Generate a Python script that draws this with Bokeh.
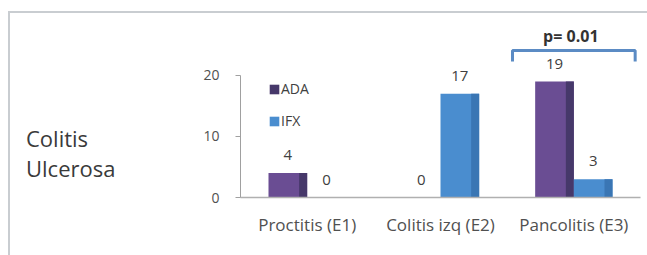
from bokeh.plotting import figure
from bokeh.layouts import row
from bokeh.models import (FactorRange, Range1d, FixedTicker, Legend, LegendItem,
                          ColumnDataSource, Div)
from bokeh.transform import dodge
from bokeh.core.properties import value
from bokeh.embed import file_html
from bokeh.resources import INLINE

# ---- data ----
categories = ["Proctitis (E1)", "Colitis izq (E2)", "Pancolitis (E3)"]
ada = [4, 0, 19]
ifx = [0, 17, 3]
series = ["ADA", "IFX"]
y_ticks = [0, 10, 20]
group_title = ["Colitis", "Ulcerosa"]
pvalue_text = "p= 0.01"
pvalue_category = "Pancolitis (E3)"

# ---- style ----
FONT = "Open Sans"
ADA_C, ADA_DARK = "#6a4d93", "#46386a"
IFX_C, IFX_DARK = "#4a8dcf", "#3a76b4"
TXT = "#404040"
BORDER = "#c9cdd1"

p = figure(width=447, height=242,
           x_range=FactorRange(factors=categories, range_padding=0),
           y_range=Range1d(0, 29.34),
           output_backend="svg", toolbar_location=None,
           min_border_left=40, min_border_right=7,
           min_border_top=5, min_border_bottom=58)
p.outline_line_color = None
p.xgrid.visible = False
p.ygrid.visible = False

src = ColumnDataSource(dict(cat=categories, ada=ada, ifx=ifx,
                            ada_lbl=[str(v) for v in ada],
                            ifx_lbl=[str(v) for v in ifx]))

bw, off, sw = 0.29, 0.145, 0.06
p.vbar(x=dodge("cat", -off, range=p.x_range), top="ada", width=bw, source=src,
       fill_color=ADA_C, line_color=None)
r_ada_strip = p.vbar(x=dodge("cat", -off + bw / 2 - sw / 2, range=p.x_range), top="ada",
                     width=sw, source=src, fill_color=ADA_DARK, line_color=None)
r_ifx = p.vbar(x=dodge("cat", off, range=p.x_range), top="ifx", width=bw, source=src,
               fill_color=IFX_C, line_color=None)
p.vbar(x=dodge("cat", off + bw / 2 - sw / 2, range=p.x_range), top="ifx", width=sw,
       source=src, fill_color=IFX_DARK, line_color=None)

lbl_kw = dict(source=src, text_align="center", text_baseline="bottom", y_offset=-13,
              text_font=value(FONT), text_font_size="15px", text_color=TXT)
p.text(x=dodge("cat", -off, range=p.x_range), y="ada", text="ada_lbl", **lbl_kw)
p.text(x=dodge("cat", off, range=p.x_range), y="ifx", text="ifx_lbl", **lbl_kw)

legend = Legend(items=[LegendItem(label=series[0], renderers=[r_ada_strip]),
                       LegendItem(label=series[1], renderers=[r_ifx])],
                location=(28, 67), glyph_width=12, glyph_height=12, padding=0,
                spacing=13, label_standoff=1, margin=0,
                label_text_font=FONT, label_text_font_size="14px",
                label_text_color=TXT, background_fill_alpha=0,
                border_line_color=None)
p.add_layout(legend)

# significance bracket
idx = categories.index(pvalue_category)
cx, half = idx + 0.5, 0.46
ytop = max(ada[idx], ifx[idx]) + 5.1
ylow = ytop - 1.8
p.line(x=[cx - half, cx - half, cx + half, cx + half], y=[ylow, ytop, ytop, ylow],
       line_color="#5b8bc4", line_width=3)
p.text(x=[cx], y=[ytop + 2.3], text=[pvalue_text], text_align="center",
       text_baseline="middle", x_offset=-3, text_font=value(FONT),
       text_font_size="16px", text_font_style="bold", text_color="#333333")

# axes
ya = p.yaxis[0]
ya.ticker = FixedTicker(ticks=y_ticks)
ya.bounds = (y_ticks[0], y_ticks[-1])
ya.minor_tick_line_color = None
ya.major_tick_in = 0
ya.major_tick_out = 5
ya.major_label_standoff = 16
ya.axis_line_color = "#a0a0a0"
ya.major_tick_line_color = "#a0a0a0"
ya.major_label_text_font = FONT
ya.major_label_text_font_size = "14px"
ya.major_label_text_color = "#505050"

xa = p.xaxis[0]
xa.major_tick_line_color = None
xa.major_tick_out = 0
xa.major_label_standoff = 15
xa.axis_line_color = "#b0b0b0"
xa.axis_line_width = 1.5
xa.major_label_text_font = FONT
xa.major_label_text_font_size = "17px"
xa.major_label_text_color = "#505050"

# group title as real HTML text
title_html = ('<div style="margin:0; padding:110px 0 0 16px; font-family:\'Open Sans\';'
              'font-size:22px; line-height:30px; color:#3a3a3a;">'
              + "<br>".join(group_title) + '</div>')
div = Div(text=title_html, width=190, height=242, margin=0)

layout = row(div, p, margin=(11, 0, 0, 8),
             styles={"border-top": "2px solid " + BORDER,
                     "border-left": "2px solid " + BORDER})

open("out.html", "w").write(file_html(layout, INLINE))
